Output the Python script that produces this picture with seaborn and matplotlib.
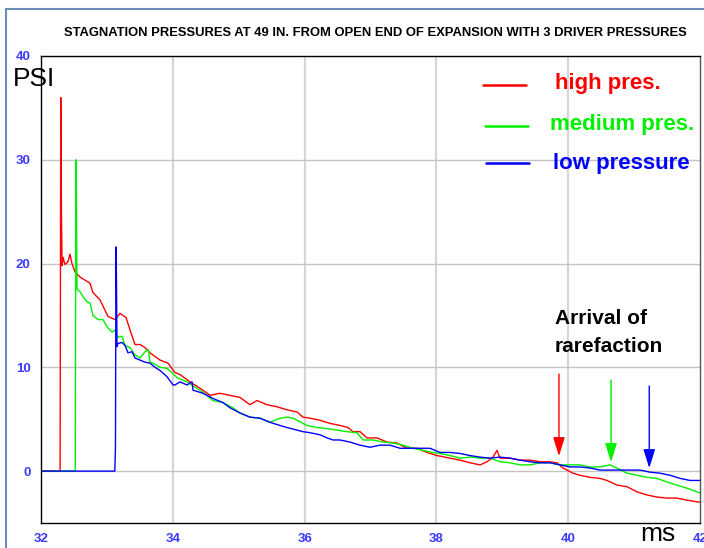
import numpy as np
import pandas as pd
import matplotlib
matplotlib.use("Agg")
import matplotlib.pyplot as plt
from matplotlib.ticker import MultipleLocator
from matplotlib.patches import Rectangle, FancyArrowPatch
import seaborn as sns

# Stagnation pressure traces (time in ms, pressure in PSI)
high_t = [32.0, 32.29, 32.30, 32.31, 32.32, 32.334, 32.364, 32.41, 32.44, 32.47, 32.516, 32.592,
          32.744, 32.789, 32.895, 33.017, 33.123, 33.199, 33.29, 33.351, 33.426, 33.502, 33.578,
          33.654, 33.806, 33.927, 34.033, 34.109, 34.261, 34.458, 34.565, 34.716, 34.868, 35.02,
          35.171, 35.278, 35.429, 35.581, 35.733, 35.885, 35.976, 36.082, 36.234, 36.385, 36.537,
          36.659, 36.734, 36.841, 36.947, 37.099, 37.25, 37.402, 37.554, 37.706, 37.857, 38.009,
          38.206, 38.358, 38.51, 38.662, 38.768, 38.859, 38.92, 38.965, 39.117, 39.269, 39.42,
          39.572, 39.724, 39.83, 39.921, 39.982, 40.073, 40.179, 40.331, 40.483, 40.589, 40.74,
          40.892, 41.044, 41.196, 41.347, 41.499, 41.651, 41.803, 42.0]
high_p = [0.0, 0.0, 36.0, 25.0, 19.8, 20.6, 19.9, 20.2, 20.9, 20.0, 19.2, 18.7,
          18.1, 17.2, 16.5, 14.9, 14.6, 15.2, 14.8, 13.6, 12.2, 12.2, 11.9,
          11.4, 10.7, 10.4, 9.5, 9.3, 8.6, 7.8, 7.3, 7.5, 7.3, 7.1,
          6.4, 6.8, 6.4, 6.2, 5.9, 5.7, 5.2, 5.1, 4.9, 4.6, 4.4,
          4.2, 3.8, 3.8, 3.2, 3.2, 2.8, 2.7, 2.2, 2.2, 1.8, 1.5,
          1.25, 1.06, 0.8, 0.6, 0.9, 1.35, 2.0, 1.25, 1.25, 1.06, 1.06,
          0.9, 0.9, 0.8, 0.3, 0.1, -0.2, -0.4, -0.6, -0.7, -0.9, -1.35,
          -1.5, -2.0, -2.3, -2.5, -2.6, -2.6, -2.8, -3.0]

medium_t = [32.0, 32.52, 32.53, 32.535, 32.546, 32.592, 32.637, 32.698, 32.744, 32.789, 32.865,
            32.941, 33.002, 33.077, 33.123, 33.168, 33.229, 33.275, 33.351, 33.426, 33.502, 33.578,
            33.63, 33.654, 33.7, 33.806, 33.912, 34.003, 34.064, 34.215, 34.337, 34.458, 34.61,
            34.762, 34.913, 35.02, 35.171, 35.323, 35.475, 35.627, 35.733, 35.824, 35.976, 36.036,
            36.188, 36.34, 36.492, 36.643, 36.795, 36.886, 37.038, 37.19, 37.341, 37.493, 37.645,
            37.797, 37.948, 38.055, 38.206, 38.358, 38.51, 38.662, 38.813, 38.965, 39.117, 39.269,
            39.42, 39.572, 39.724, 39.876, 40.027, 40.179, 40.331, 40.483, 40.634, 40.74, 40.892,
            41.044, 41.196, 41.347, 41.499, 41.651, 41.803, 42.0]
medium_p = [0.0, 0.0, 30.0, 29.0, 17.5, 17.3, 16.8, 16.3, 16.2, 15.0, 14.6,
            14.6, 13.9, 13.4, 13.6, 12.9, 13.0, 12.1, 11.9, 11.2, 10.9, 11.5,
            11.7, 10.5, 10.4, 10.0, 9.9, 9.4, 9.0, 8.6, 8.1, 7.6, 6.8,
            6.6, 6.1, 5.6, 5.2, 5.1, 4.7, 5.1, 5.2, 5.1, 4.6, 4.4,
            4.2, 4.1, 3.95, 3.8, 3.7, 3.0, 3.0, 2.8, 2.7, 2.5, 2.2,
            2.0, 1.8, 1.7, 1.5, 1.25, 1.35, 1.25, 1.25, 0.9, 0.8, 0.6,
            0.6, 0.8, 0.8, 0.6, 0.6, 0.6, 0.4, 0.4, 0.6, 0.3, -0.2,
            -0.4, -0.6, -0.7, -1.05, -1.35, -1.65, -2.1]

low_t = [32.0, 33.12, 33.13, 33.138, 33.145, 33.153, 33.168, 33.229, 33.275, 33.32, 33.381,
         33.426, 33.502, 33.578, 33.654, 33.73, 33.806, 33.912, 34.003, 34.033, 34.109, 34.215,
         34.291, 34.307, 34.458, 34.61, 34.762, 34.868, 35.02, 35.171, 35.323, 35.475, 35.627,
         35.733, 35.885, 35.976, 36.082, 36.234, 36.34, 36.431, 36.537, 36.689, 36.841, 36.992,
         37.144, 37.296, 37.448, 37.599, 37.751, 37.903, 38.055, 38.206, 38.358, 38.51, 38.662,
         38.813, 38.965, 39.117, 39.269, 39.42, 39.572, 39.724, 39.876, 40.027, 40.179, 40.331,
         40.483, 40.634, 40.786, 40.938, 41.09, 41.241, 41.393, 41.545, 41.697, 41.848, 42.0]
low_p = [0.0, 0.0, 2.3, 21.6, 18.6, 12.0, 12.3, 12.4, 12.1, 11.4, 11.5,
         10.9, 10.7, 10.5, 10.4, 10.0, 9.7, 9.1, 8.3, 8.3, 8.6, 8.3,
         8.6, 7.8, 7.5, 7.0, 6.6, 6.1, 5.6, 5.2, 5.1, 4.7, 4.4,
         4.2, 3.95, 3.8, 3.7, 3.5, 3.2, 3.0, 3.0, 2.8, 2.5, 2.3,
         2.5, 2.5, 2.2, 2.2, 2.2, 2.2, 1.8, 1.8, 1.7, 1.5, 1.35,
         1.25, 1.35, 1.25, 1.06, 0.9, 0.8, 0.8, 0.6, 0.4, 0.4, 0.3,
         0.1, 0.1, 0.1, 0.1, 0.1, -0.1, -0.2, -0.4, -0.7, -0.9, -0.9]

series_names = ["high pres.", "medium pres.", "low pressure"]
series_colors = ["#ff0000", "#00f000", "#0000ff"]

# Rarefaction arrival markers: x position, shaft top, tip (PSI)
arrow_x = [39.86, 40.65, 41.23]
arrow_top = [9.35, 8.78, 8.2]
arrow_tip = [1.45, 0.87, 0.29]

x_ticks = [32, 34, 36, 38, 40, 42]
y_ticks = [0, 10, 20, 30, 40]

df = pd.concat([
    pd.DataFrame({"t": high_t, "p": high_p, "series": series_names[0]}),
    pd.DataFrame({"t": medium_t, "p": medium_p, "series": series_names[1]}),
    pd.DataFrame({"t": low_t, "p": low_p, "series": series_names[2]}),
], ignore_index=True)

sns.set_style("white")
plt.rcParams["font.family"] = ["Liberation Sans", "DejaVu Sans"]

W, H = 704, 548
fig = plt.figure(figsize=(W / 100, H / 100), dpi=100)


def fx(px):
    return px / W


def fy(py):
    return 1 - py / H


ax = fig.add_axes([fx(41), fy(523), fx(700) - fx(41), fy(56) - fy(523)])

# light grid behind the traces
for xv in [34, 36, 38, 40]:
    ax.axvline(xv, color="#d6d6d6", lw=1.6, zorder=0)
for yv in [0, 10, 20, 30]:
    ax.axhline(yv, color="#c4c4c4", lw=1.0, zorder=0)

sns.lineplot(data=df, x="t", y="p", hue="series", hue_order=series_names,
             palette=dict(zip(series_names, series_colors)), sort=False,
             estimator=None, legend=False, lw=1.0, ax=ax)

ax.set_xlim(32, 42)
ax.set_ylim(-5, 40)
ax.set_xlabel("")
ax.set_ylabel("")
ax.set_xticks(x_ticks)
ax.set_yticks(y_ticks)
ax.xaxis.set_minor_locator(MultipleLocator(0.4))
ax.yaxis.set_minor_locator(MultipleLocator(2))
ax.tick_params(axis="both", which="both", direction="inout", colors="black",
               labelcolor="#3a3aff", labelsize=9.5, width=1.0)
ax.tick_params(axis="both", which="major", length=9)
ax.tick_params(axis="both", which="minor", length=8)
ax.tick_params(axis="x", pad=3)
ax.tick_params(axis="y", pad=3)
for lab in ax.get_xticklabels() + ax.get_yticklabels():
    lab.set_fontweight("bold")
for side in ["left", "bottom", "top"]:
    ax.spines[side].set_color("black")
    ax.spines[side].set_linewidth(1.0)
ax.spines["right"].set_color("#555555")
ax.spines["right"].set_linewidth(1.0)

# rarefaction arrows
for x, top, tip, c in zip(arrow_x, arrow_top, arrow_tip, series_colors):
    arr = FancyArrowPatch((x, top), (x, tip), arrowstyle="-|>,head_length=1.15,head_width=0.36",
                          mutation_scale=10, color=c, lw=1.0, shrinkA=0, shrinkB=0)
    ax.add_patch(arr)

# legend drawn as line samples with coloured labels
leg_lines = [(483, 526, 85), (485, 528, 126), (486, 529, 163)]
leg_text = [(555, 84), (550, 124), (553, 163)]
for (x0, x1, yy), (tx, ty), name, c in zip(leg_lines, leg_text, series_names, series_colors):
    fig.add_artist(plt.Line2D([fx(x0), fx(x1)], [fy(yy), fy(yy)], color=c, lw=1.8))
    fig.text(fx(tx), fy(ty), name, color=c, fontsize=16, fontweight="bold",
             ha="left", va="center")

fig.text(fx(555), fy(319), "Arrival of", color="black", fontsize=15,
         fontweight="bold", ha="left", va="center")
fig.text(fx(555), fy(347), "rarefaction", color="black", fontsize=15,
         fontweight="bold", ha="left", va="center")

fig.text(fx(375), fy(33), "STAGNATION PRESSURES AT 49 IN. FROM OPEN END OF EXPANSION WITH 3 DRIVER PRESSURES",
         fontsize=9.4, fontweight="bold", ha="center", va="center", color="black")
fig.text(fx(13), fy(79), "PSI", fontsize=19, ha="left", va="center", color="black")
fig.text(fx(640), fy(534), "ms", fontsize=19, ha="left", va="center", color="black")

# outer frame
fig.add_artist(Rectangle((fx(6), fy(560)), 1.2, fy(9) - fy(560), fill=False,
                         edgecolor="#6d8bb8", lw=1.5, transform=fig.transFigure))

fig.savefig("out.png", dpi=100)
